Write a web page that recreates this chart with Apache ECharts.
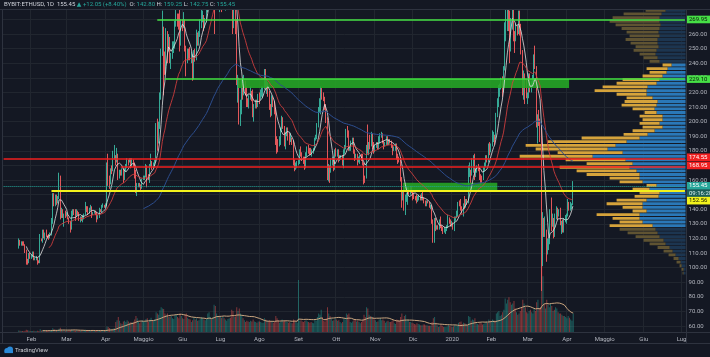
<!DOCTYPE html>
<html>
<head>
<meta charset="utf-8">
<title>BYBIT:ETHUSD 1D</title>
<script src="https://cdn.jsdelivr.net/npm/echarts@6.0.0/dist/echarts.min.js"></script>
<style>
  html, body { margin: 0; padding: 0; background: #141823; }
  #chart { width: 710px; height: 357px; }
</style>
</head>
<body>
<div id="chart"></div>
<script>
// daily candles, BYBIT:ETHUSD, from 2019-01-22 to 2020-04-06 (open = previous close)
const firstDay = '2019-01-22'
const firstOpen = 116.0
const closes = [
  118.5,116.5,117.5,116.2,115.6,112.3,105.2,104.0,108.9,107.2,
  107.9,110.3,106.0,106.2,106.6,104.5,104.2,119.9,119.2,125.4,120.7,122.7,121.9,120.8,120.3,122.5,131.1,146.1,145.5,149.0,146.1,148.2,159.3,135.9,139.2,136.2,136.3,135.9,
  136.4,134.3,131.1,126.3,137.1,138.0,137.8,135.4,138.5,137.5,133.1,133.9,133.2,133.2,136.1,142.1,139.7,137.6,139.8,141.5,137.1,137.5,138.1,137.6,133.6,134.7,139.6,138.7,142.3,142.3,141.5,
  142.2,164.8,160.9,157.4,166.6,166.5,176.3,176.4,172.6,177.9,165.3,165.6,164.3,167.1,160.3,167.0,168.4,173.2,173.0,174.1,170.5,171.6,170.5,164.5,154.6,155.2,156.6,156.5,154.1,161.0,
  161.0,162.3,167.3,162.0,161.3,170.0,172.2,170.3,170.6,173.0,194.0,187.2,196.5,216.9,247.9,262.3,245.3,234.0,261.3,251.2,255.9,244.0,245.3,249.1,251.0,266.0,272.0,271.7,268.8,255.0,268.3,
  265.3,269.8,250.8,243.2,248.9,247.2,245.6,245.6,230.4,247.8,245.3,260.5,254.2,260.2,267.5,268.3,272.5,266.3,269.6,275.6,297.5,307.3,311.3,310.7,318.6,318.8,294.2,310.9,319.0,290.3,
  294.0,291.5,302.5,282.5,287.0,287.2,306.3,313.0,308.0,289.8,268.9,275.7,268.7,228.0,228.7,201.0,211.1,225.4,220.9,227.0,222.1,213.0,212.6,217.2,219.6,218.7,206.5,210.6,213.6,210.8,218.4,
  217.0,217.7,222.2,223.0,232.0,225.3,226.5,220.2,209.9,205.6,215.9,212.4,207.9,187.0,186.8,184.9,185.7,194.4,202.0,197.0,186.8,192.0,194.8,190.5,186.6,188.3,186.7,173.6,169.4,169.4,172.6,
  173.4,178.9,178.5,175.4,173.8,169.2,178.0,181.2,181.0,180.9,179.0,180.0,180.5,188.3,189.7,197.4,207.5,210.2,222.1,218.6,215.6,211.6,201.6,166.5,169.0,165.8,173.3,173.6,168.5,180.0,
  177.3,180.6,174.6,176.3,176.4,170.6,179.8,182.2,192.9,191.3,181.1,181.5,185.8,187.3,180.2,175.6,177.2,172.7,173.6,176.0,174.8,171.3,161.8,161.4,180.8,180.4,184.2,183.3,191.5,183.8,182.2,
  183.2,185.4,182.8,187.8,190.0,191.1,186.6,184.0,185.3,189.1,185.7,187.2,186.7,183.7,179.9,181.9,183.8,176.9,175.1,173.3,161.4,148.0,152.2,140.6,147.5,147.6,152.9,151.5,154.6,151.9,
  150.8,148.5,147.2,145.9,148.5,149.1,147.0,150.4,147.3,145.4,143.5,145.0,144.8,141.6,142.5,132.8,121.9,132.8,128.0,128.7,127.1,132.3,127.4,127.2,125.1,125.6,126.3,128.1,134.4,131.9,129.6,
  130.8,127.4,134.2,134.3,136.2,144.3,143.5,141.3,138.3,143.8,142.5,146.2,144.9,165.8,166.0,163.8,171.2,174.0,166.6,167.1,169.7,168.3,162.9,162.7,160.5,167.8,170.7,175.2,174.4,183.7,179.9,
  183.6,188.7,189.9,189.1,204.2,212.3,223.0,223.6,228.6,222.9,236.7,265.3,268.0,284.2,265.1,261.6,267.9,282.3,258.8,258.0,265.1,261.3,274.5,265.5,248.3,224.7,227.6,226.7,217.2,
  217.5,231.5,224.5,224.5,228.3,244.2,237.5,199.4,201.7,200.7,194.9,112.3,133.2,123.3,125.2,110.6,117.7,117.9,136.4,132.5,132.7,122.3,135.0,138.2,136.3,138.9,130.8,131.4,125.2,132.2,133.6,
  136.3,141.6,141.3,143.0,143.4,155.45
]
const highs = [
  120,119,118,118,118,116,112,106,110,110,
  109,111,111,107,108,107,105,123,120,126,126,124,126,122,123,124,134,151,151,150,150,149,165,163,141,140,137,139,
  138,137,134,132,139,140,140,140,140,139,138,135,135,136,137,145,142,142,141,143,142,138,139,139,138,136,141,140,143,144,143,
  144,172,178,163,168,170,180,184,177,182,178,167,167,168,168,168,171,175,174,175,175,175,174,172,167,158,158,158,157,161,
  163,163,171,170,164,171,178,173,172,174,199,202,200,220,250,276,265,248,264,262,260,258,247,255,255,269,282,274,274,288,270,
  270,275,270,252,250,250,251,248,246,249,250,263,261,262,270,278,276,273,271,278,300,318,314,313,320,362,322,312,322,320,
  300,295,305,305,290,300,310,315,314,316,291,277,278,270,232,230,215,229,227,232,228,224,216,218,224,221,222,212,215,215,219,
  220,222,224,224,236,236,229,227,221,212,218,217,214,209,190,188,190,196,204,203,197,193,196,196,192,192,189,187,174,172,173,
  174,181,183,179,176,176,179,183,184,182,182,181,182,189,191,199,210,216,224,223,220,217,212,203,171,170,175,176,174,181,
  182,181,181,177,177,177,181,184,195,197,194,183,187,189,189,181,178,178,176,177,178,178,172,163,184,198,186,191,193,192,186,
  184,186,186,190,192,193,192,187,186,190,190,188,188,187,184,183,185,185,178,176,174,162,153,153,150,151,155,155,156,156,
  152,151,149,150,149,150,150,151,152,148,146,146,146,145,143,143,133,134,134,129,129,133,135,129,128,128,127,129,136,134,133,
  132,131,135,135,139,145,146,147,142,144,149,147,147,170,172,167,175,177,178,168,170,171,169,164,163,169,172,177,177,185,186,
  185,194,193,191,206,216,225,226,230,231,238,268,278,286,289,276,271,284,287,262,267,266,276,276,267,249,235,233,229,
  220,233,233,228,232,246,252,238,205,208,202,196,138,134,135,126,120,120,140,148,137,134,137,142,141,140,141,132,133,134,136,
  137,147,145,145,144,159.25
]
const lows = [
  113,115,115,115,115,110,102,102,103,106,
  106,107,105,105,105,102,103,103,118,117,120,119,121,120,119,120,122,130,142,142,143,144,147,133,134,134,128,134,
  135,133,130,124,126,135,136,132,135,136,132,131,132,131,133,136,138,136,137,139,134,136,137,136,131,133,134,138,138,141,141,
  141,142,156,154,157,164,166,174,170,172,160,161,163,163,158,160,166,168,170,172,168,169,169,161,151,149,155,155,153,154,
  160,160,162,155,160,158,169,167,168,169,172,180,185,195,215,245,218,232,233,240,248,240,236,243,247,250,265,265,263,248,252,
  262,264,248,231,240,242,242,240,228,229,241,242,252,252,258,264,268,262,264,268,275,296,301,304,308,305,260,290,305,287,
  275,275,289,281,276,285,286,301,300,280,260,264,260,225,213,198,197,205,215,218,218,210,210,209,215,214,203,200,209,209,210,
  212,215,217,216,222,222,219,217,208,203,204,210,205,184,178,179,183,184,193,195,183,181,190,187,184,186,184,170,166,167,168,
  170,171,176,173,171,167,168,176,178,177,177,176,178,180,187,188,196,206,205,215,214,208,199,160,159,158,165,170,166,167,
  176,176,172,173,174,170,168,178,181,189,180,180,180,184,178,173,174,170,172,171,173,170,157,158,161,178,177,181,183,181,178,
  179,182,181,181,185,189,185,181,183,184,184,184,185,182,177,180,180,174,171,172,159,141,146,139,136,145,143,150,150,151,
  146,147,146,144,145,146,146,146,146,144,142,142,144,141,140,130,117,117,125,126,126,126,127,125,123,124,123,125,127,130,128,
  128,126,125,132,134,135,142,139,137,135,140,141,143,144,162,158,163,165,160,162,165,166,160,157,158,160,166,169,172,172,177,
  179,183,186,184,188,203,210,217,222,217,220,235,255,262,262,240,248,263,255,247,255,259,260,259,246,218,215,212,216,
  212,216,220,220,224,227,236,196,185,197,186,84,101,121,121,104,109,112,116,125,128,120,121,133,133,135,129,123,124,124,131,
  130,135,139,139,140,142.75
]
// daily volume, millions of USD
const volumes = [
  12,10,8,9,7,10,18,14,12,9,
  9,8,10,8,7,11,8,22,12,15,11,9,10,8,7,9,16,30,24,19,15,13,26,34,18,13,12,11,
  10,9,11,16,18,12,11,13,12,9,12,10,10,11,12,18,13,12,11,13,14,9,8,9,13,10,14,11,13,10,9,
  12,45,40,32,26,22,28,30,80,95,120,90,70,65,85,90,80,95,85,75,80,78,82,100,130,110,85,70,80,95,
  85,80,105,110,80,100,115,95,90,100,160,150,140,175,200,190,185,150,140,150,120,125,130,110,105,135,145,120,110,150,130,
  110,105,140,150,115,105,100,80,95,120,100,110,90,95,105,120,110,100,95,105,150,160,120,105,115,220,210,150,120,130,
  120,115,125,110,100,90,105,110,115,180,170,120,125,200,170,190,150,140,110,95,80,90,85,80,90,85,100,85,80,75,85,
  85,80,75,75,110,100,90,85,95,80,80,75,80,130,110,95,75,80,100,85,95,85,80,75,80,75,70,100,95,80,75,
  420,90,95,85,80,90,95,85,80,75,80,75,70,100,90,120,150,140,180,120,90,85,110,200,150,130,110,90,95,110,
  100,90,95,80,70,80,110,100,150,140,150,80,75,85,95,100,85,90,80,70,80,95,140,120,200,190,140,130,125,120,100,
  95,80,85,100,110,95,100,90,75,85,90,80,80,85,95,70,65,100,95,90,120,150,100,130,140,90,100,80,80,75,
  70,65,60,70,65,60,55,55,60,60,55,55,50,50,50,80,110,120,75,55,40,45,60,50,40,40,40,45,55,50,45,
  40,45,60,45,50,75,80,85,65,75,70,60,55,130,120,90,100,95,110,70,65,60,75,70,60,65,70,85,75,100,90,
  85,100,95,90,150,160,170,130,140,160,180,270,230,260,280,240,220,230,250,190,160,140,150,170,200,260,230,200,160,
  150,170,180,160,150,190,170,240,260,190,200,560,450,230,190,260,220,200,230,210,170,180,200,190,160,150,150,140,130,130,120,
  110,130,115,100,90,150
]

// visible range volume profile, rows of 2.5 from the top row down
const profileTop = 281.25
const profileStep = 2.5
const profileUp = [
  12,16,20,24,26,26,25,26,27,26,28,28,27,29,30,28,26,
  14,18,19,23,26,29,38,39,39,33,28,29,31,29,23,23,26,23,31,38,46,59,70,78,63,93,60,53,56,49,46,46,43,29,36,26,27,39,43,43,39,46,46,43,33,
  30,28,26,22,20,16,13,10,7,5,4,2,2
]
const profileDown = [
  8,14,20,38,47,50,45,38,32,30,32,27,23,23,16,14,10,
  9,21,17,20,37,40,45,52,30,26,33,35,22,12,23,20,20,20,22,24,58,79,90,72,65,73,60,46,70,60,53,30,23,10,17,20,24,30,36,20,14,43,27,23,43,
  36,30,24,20,16,12,9,7,5,4,2,2,1
]
const valueAreaLow = 127.5
const valueAreaHigh = 240

// drawings on the chart
const levelTop = 269.95
const levelZone = 229.10
const levelRed1 = 174.55
const levelRed2 = 168.95
const levelYellow = 152.56
const lastPrice = 155.45
const zoneHigh = [229.10, 223.0]
const zoneLow = [158.2, 152.6]

const monthNames = ['Gen', 'Feb', 'Mar', 'Apr', 'Maggio', 'Giu', 'Lug', 'Ago', 'Set', 'Ott', 'Nov', 'Dic']

const bg = '#141823'
const gridColor = '#21262f'
const borderColor = '#2e333f'
const textColor = '#b2b5be'
const upColor = '#35a996'
const downColor = '#e2575a'
const font = 'Roboto, "DejaVu Sans", sans-serif'

const categories = []
for (let t = Date.UTC(2019, 0, 10); t <= Date.UTC(2020, 6, 4); t += 864e5) {
  categories.push(new Date(t).toISOString().slice(0, 10))
}
const lastCat = categories[categories.length - 1]
const offset = categories.indexOf(firstDay)
const n = Math.min(closes.length, highs.length, lows.length, volumes.length)

const candleData = []
const volumeData = []
let prev = firstOpen
for (let i = 0; i < n; i++) {
  const d = categories[offset + i]
  const o = prev, c = closes[i]
  candleData.push([d, o, c, Math.min(lows[i], o, c), Math.max(highs[i], o, c)])
  volumeData.push({
    value: [d, volumes[i]],
    itemStyle: { color: c >= o ? 'rgba(38,166,154,0.5)' : 'rgba(239,83,80,0.5)' }
  })
  prev = c
}

function sma(arr, len) {
  const out = []
  for (let i = 0; i < n; i++) {
    if (i < len - 1) { out.push([categories[offset + i], '-']); continue }
    let s = 0
    for (let k = i - len + 1; k <= i; k++) s += arr[k]
    out.push([categories[offset + i], +(s / len).toFixed(2)])
  }
  return out
}

// exponential average, seeded with the simple average of the first len bars
function ema(arr, len) {
  const a = 2 / (len + 1)
  const out = []
  let e = null
  for (let i = 0; i < n; i++) {
    if (i < len - 1) { out.push([categories[offset + i], '-']); continue }
    if (e === null) {
      let s = 0
      for (let k = 0; k < len; k++) s += arr[k]
      e = s / len
    } else {
      e = a * arr[i] + (1 - a) * e
    }
    out.push([categories[offset + i], +e.toFixed(2)])
  }
  return out
}

const profileData = profileUp.map((u, i) => [profileTop - i * profileStep, u, profileDown[i]])

function renderProfile(params, api) {
  const price = api.value(0)
  const up = api.value(1)
  const down = api.value(2)
  const inVA = price >= valueAreaLow && price <= valueAreaHigh
  const base = api.coord([0, price])
  const upPt = api.coord([up, price])
  const totPt = api.coord([up + down, price])
  const h = api.size([0, profileStep])[1]
  const y = base[1] - h / 2 + 0.4
  return {
    type: 'group',
    children: [
      { type: 'rect', shape: { x: upPt[0], y, width: base[0] - upPt[0], height: h - 0.8 },
        style: { fill: inVA ? '#2a78b8' : '#1c3550' } },
      { type: 'rect', shape: { x: totPt[0], y, width: upPt[0] - totPt[0], height: h - 0.8 },
        style: { fill: inVA ? '#d6a33b' : '#5f5332' } }
    ]
  }
}

const isMonthStart = (index, value) => value.slice(8) === '01'
const monthLabel = value => {
  const m = +value.slice(5, 7)
  return m === 1 ? value.slice(0, 4) : monthNames[m - 1]
}

function hLine(from, value, color, width, type) {
  return [
    { coord: [from, value], lineStyle: { color, width, type: type || 'solid', opacity: 1 } },
    { coord: [lastCat, value] }
  ]
}

const option = {
  backgroundColor: bg,
  animation: false,
  textStyle: { fontFamily: font },
  grid: [
    { left: 3, right: 24, top: 4.8, bottom: 16.4 },
    { left: 3, right: 24, top: 9.5, bottom: 25 }
  ],
  xAxis: [
    { type: 'category', gridIndex: 0, data: categories, show: false },
    {
      type: 'category', gridIndex: 1, data: categories, position: 'bottom',
      axisLine: { show: false }, axisTick: { show: false },
      axisLabel: { interval: isMonthStart, formatter: monthLabel, color: textColor, fontSize: 6, margin: 4 },
      splitLine: { show: true, interval: isMonthStart, lineStyle: { color: gridColor, width: 1 } }
    },
    { type: 'value', gridIndex: 0, inverse: true, min: 0, max: 683, show: false }
  ],
  yAxis: [
    {
      type: 'value', gridIndex: 0, position: 'right', min: 50, max: 280, interval: 10,
      axisLine: { show: false }, axisTick: { show: false },
      axisLabel: {
        color: textColor, fontSize: 6, margin: 3, align: 'left',
        formatter: v => (v === 50 || v === 280) ? '' : v.toFixed(2)
      },
      splitLine: { showMinLine: false, showMaxLine: false, lineStyle: { color: gridColor, width: 1 } }
    },
    { type: 'value', gridIndex: 1, min: 0, max: 2600, show: false, splitLine: { show: false } }
  ],
  series: [
    {
      name: 'Profile', type: 'custom', xAxisIndex: 2, yAxisIndex: 0, z: 1, clip: true,
      renderItem: renderProfile, encode: { x: 1, y: 0 }, data: profileData, silent: true
    },
    {
      name: 'Volume', type: 'bar', xAxisIndex: 1, yAxisIndex: 1, data: volumeData,
      barWidth: '70%', silent: true
    },
    {
      name: 'Volume MA', type: 'line', xAxisIndex: 1, yAxisIndex: 1, data: sma(volumes, 20),
      symbol: 'none', lineStyle: { color: '#c9a57f', width: 1 }, silent: true
    },
    {
      name: 'ETHUSD', type: 'candlestick', xAxisIndex: 0, yAxisIndex: 0, z: 3,
      data: candleData, encode: { x: 0, y: [1, 2, 3, 4] },
      barWidth: '45%',
      itemStyle: { color: upColor, color0: downColor, borderColor: upColor, borderColor0: downColor, borderWidth: 1 },
      markArea: {
        silent: true, z: 4,
        itemStyle: { color: 'rgba(38,168,38,0.88)' },
        data: [
          [{ coord: ['2019-07-15', zoneHigh[0]] }, { coord: ['2020-04-03', zoneHigh[1]] }],
          [{ coord: ['2019-11-23', zoneLow[0]] }, { coord: ['2020-02-06', zoneLow[1]] }]
        ]
      },
      markLine: {
        silent: true, symbol: 'none', z: 6,
        label: { show: false },
        emphasis: { disabled: true },
        data: [
          hLine('2019-05-12', levelTop, '#46e046', 1.6),
          hLine('2019-05-18', levelZone, '#3fe03f', 1.5),
          hLine(categories[0], levelRed1, '#f01f1f', 1.6),
          hLine('2019-04-13', levelRed2, '#f01f1f', 1.6),
          hLine('2019-02-17', levelYellow, '#f2f21c', 2),
          hLine(categories[0], lastPrice, '#26a69a', 1, 'dotted')
        ]
      }
    },
    {
      name: 'MA 7', type: 'line', xAxisIndex: 0, yAxisIndex: 0, z: 4, data: sma(closes, 7),
      symbol: 'none', lineStyle: { color: 'rgba(225,225,225,0.8)', width: 1 }, silent: true
    },
    {
      name: 'EMA 25', type: 'line', xAxisIndex: 0, yAxisIndex: 0, z: 4, data: ema(closes, 25),
      symbol: 'none', lineStyle: { color: 'rgba(214,64,64,0.85)', width: 1 }, silent: true
    },
    {
      name: 'EMA 100', type: 'line', xAxisIndex: 0, yAxisIndex: 0, z: 4, data: ema(closes, 100),
      symbol: 'none', lineStyle: { color: '#2c4d8e', width: 1 }, silent: true
    }
  ]
}

const chart = echarts.init(document.getElementById('chart'), null, { renderer: 'canvas' })
chart.setOption(option)

// price tags on the right scale, placed with the price axis
const yOf = v => chart.convertToPixel({ yAxisIndex: 0 }, v)
const tags = [
  { v: levelTop, text: '269.95', fill: '#46e046', color: '#0e160e', dy: 0 },
  { v: levelZone, text: '229.10', fill: '#46e046', color: '#0e160e', dy: 0 },
  { v: levelRed1, text: '174.55', fill: '#f01f1f', color: '#ffffff', dy: -1.5 },
  { v: levelRed2, text: '168.95', fill: '#f01f1f', color: '#ffffff', dy: -1.5 },
  { v: lastPrice, text: '155.45', fill: '#26a69a', color: '#ffffff', dy: -0.8 },
  { v: lastPrice, text: '09:16:28', fill: '#1d5f59', color: '#d8f0ec', dy: 7.2 },
  { v: levelYellow, text: '152.56', fill: '#f2f21c', color: '#1a1a00', dy: 9.8 }
]
const graphics = [
  { type: 'rect', z: 50, shape: { x: 0, y: 0, width: 710, height: 9.5 }, style: { fill: bg } },
  { type: 'line', z: 51, shape: { x1: 0, y1: 9.5, x2: 710, y2: 9.5 }, style: { stroke: borderColor, lineWidth: 1 } },
  { type: 'line', z: 51, shape: { x1: 0, y1: 332.5, x2: 710, y2: 332.5 }, style: { stroke: borderColor, lineWidth: 1 } },
  { type: 'line', z: 51, shape: { x1: 0, y1: 343.5, x2: 710, y2: 343.5 }, style: { stroke: borderColor, lineWidth: 1 } },
  { type: 'line', z: 51, shape: { x1: 686.5, y1: 9.5, x2: 686.5, y2: 343.5 }, style: { stroke: borderColor, lineWidth: 1 } },
  { type: 'line', z: 51, shape: { x1: 2.5, y1: 9.5, x2: 2.5, y2: 343.5 }, style: { stroke: borderColor, lineWidth: 1 } },
  {
    type: 'text', z: 60, left: 4, top: 1.5,
    style: {
      text: '{t|BYBIT:ETHUSD, 1D  155.45 }{g|\u25B2 +12.05 (+8.40%)}{t|  O: }{g|142.80}{t| H: }{g|159.25}{t| L: }{g|142.75}{t| C: }{g|155.45}',
      rich: {
        t: { fill: '#d1d4dc', fontSize: 6, fontFamily: font },
        g: { fill: '#26a69a', fontSize: 6, fontFamily: font }
      }
    }
  },
  { type: 'circle', z: 60, shape: { cx: 7, cy: 350.5, r: 2.6 }, style: { fill: '#2a8ad8' } },
  { type: 'circle', z: 60, shape: { cx: 10, cy: 349.5, r: 3 }, style: { fill: '#2a8ad8' } },
  { type: 'rect', z: 60, shape: { x: 4.5, y: 350.5, width: 8.5, height: 2.6 }, style: { fill: '#2a8ad8' } },
  { type: 'text', z: 60, left: 15, top: 347, style: { text: 'TradingView', fill: '#c8cad0', fontSize: 6, fontFamily: font } }
]
tags.forEach(t => {
  const y = yOf(t.v) + t.dy
  graphics.push({ type: 'rect', z: 70, shape: { x: 687, y: y - 3.8, width: 23, height: 7.6 }, style: { fill: t.fill } })
  graphics.push({
    type: 'text', z: 71, x: 689, y: y,
    style: { text: t.text, fill: t.color, fontSize: 6, fontFamily: font, verticalAlign: 'middle', align: 'left' }
  })
})
chart.setOption({ graphic: graphics })
</script>
</body>
</html>
